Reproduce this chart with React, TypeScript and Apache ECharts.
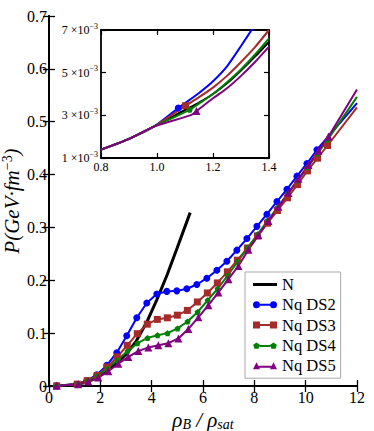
import React, { useEffect, useRef } from "react";
import * as echarts from "echarts";

// ---------- main panel data (x = rho_B / rho_sat, y = P in GeV fm^-3) ----------
const N_X = [0.3, 0.6, 1.0, 1.4, 1.8, 2.2, 2.6, 3.0, 3.4, 3.8, 4.2, 4.6, 5.0, 5.5];
const N_Y = [0.0002, 0.0008, 0.0025, 0.0065, 0.014, 0.026, 0.042, 0.06, 0.085, 0.12, 0.163, 0.21, 0.262, 0.328];

const DS2_X = [0.3, 1.08, 1.47, 1.86, 2.25, 2.64, 3.03, 3.42, 3.81, 4.2, 4.59, 4.98, 5.37, 5.76, 6.15, 6.54, 6.93, 7.32, 7.71, 8.1, 8.49, 8.88, 9.27, 9.66, 10.05, 10.44, 12];
const DS2_Y = [0.0003, 0.0033, 0.01, 0.021, 0.039, 0.063, 0.095, 0.129, 0.157, 0.174, 0.179, 0.18, 0.184, 0.192, 0.204, 0.219, 0.236, 0.257, 0.279, 0.302, 0.325, 0.349, 0.372, 0.397, 0.421, 0.447, 0.535];

const DS3_X = [0.3, 1.1, 1.49, 1.88, 2.27, 2.66, 3.05, 3.44, 3.83, 4.22, 4.61, 5.0, 5.39, 5.78, 6.17, 6.56, 6.95, 7.34, 7.73, 8.12, 8.51, 8.9, 9.29, 9.68, 10.07, 10.46, 10.85, 12];
const DS3_Y = [0.0003, 0.0035, 0.01, 0.02, 0.036, 0.055, 0.077, 0.099, 0.117, 0.126, 0.129, 0.134, 0.143, 0.159, 0.176, 0.195, 0.216, 0.238, 0.261, 0.284, 0.308, 0.332, 0.356, 0.381, 0.407, 0.431, 0.455, 0.527];

const DS4_X = [0.3, 1.12, 1.5, 1.89, 2.28, 2.67, 3.06, 3.45, 3.84, 4.23, 4.62, 5.01, 5.4, 5.79, 6.18, 6.57, 6.96, 7.35, 7.74, 8.13, 8.52, 8.91, 9.3, 9.69, 10.08, 10.47, 10.86, 12];
const DS4_Y = [0.0003, 0.0033, 0.0095, 0.019, 0.033, 0.049, 0.066, 0.081, 0.091, 0.096, 0.1, 0.109, 0.122, 0.14, 0.162, 0.184, 0.209, 0.235, 0.262, 0.287, 0.313, 0.338, 0.364, 0.389, 0.414, 0.44, 0.466, 0.547];

const DS5_X = [0.3, 1.14, 1.53, 1.92, 2.31, 2.7, 3.09, 3.48, 3.87, 4.26, 4.65, 5.04, 5.43, 5.82, 6.21, 6.6, 6.99, 7.38, 7.77, 8.16, 8.55, 8.94, 9.33, 9.72, 10.11, 10.5, 10.89, 12];
const DS5_Y = [0.0003, 0.0033, 0.0085, 0.016, 0.028, 0.042, 0.055, 0.066, 0.073, 0.077, 0.081, 0.09, 0.108, 0.13, 0.153, 0.177, 0.202, 0.227, 0.258, 0.285, 0.312, 0.339, 0.365, 0.392, 0.418, 0.445, 0.472, 0.561];

// ---------- inset data (y in units of 10^-3 GeV fm^-3) ----------
const IN_N_X = [0.8, 0.9, 0.99, 1.1, 1.15, 1.2, 1.25, 1.3, 1.35, 1.4];
const IN_N_Y = [1.39, 1.9, 2.48, 3.25, 3.6, 4.0, 4.5, 5.1, 5.75, 6.45];
const IN_DS2_X = [0.8, 0.9, 0.99, 1.076, 1.15, 1.2, 1.25, 1.3, 1.35, 1.4];
const IN_DS2_Y = [1.39, 1.9, 2.48, 3.34, 4.05, 4.6, 5.3, 6.25, 7.25, 8.3];
const IN_DS3_X = [0.8, 0.9, 0.99, 1.102, 1.15, 1.2, 1.25, 1.3, 1.35, 1.4];
const IN_DS3_Y = [1.39, 1.9, 2.48, 3.45, 3.85, 4.3, 4.85, 5.5, 6.2, 7.0];
const IN_DS4_X = [0.8, 0.9, 0.99, 1.117, 1.15, 1.2, 1.25, 1.3, 1.35, 1.4];
const IN_DS4_Y = [1.39, 1.9, 2.48, 3.26, 3.55, 4.0, 4.55, 5.15, 5.85, 6.61];
const IN_DS5_X = [0.8, 0.9, 0.99, 1.123, 1.141, 1.2, 1.25, 1.3, 1.35, 1.4];
const IN_DS5_Y = [1.39, 1.9, 2.48, 3.02, 3.2, 3.8, 4.27, 4.85, 5.5, 6.22];
const IN_MARK = { ds2: 3, ds3: 3, ds4: 3, ds5: 4 };

const INSET_X_TICKS = [0.8, 1.0, 1.2, 1.4];
const INSET_Y_TICKS = [1, 3, 5, 7];

const FONT = "'Liberation Serif', 'DejaVu Serif', serif";
const C_N = "#000000";
const C2 = "#0000ff";
const C3 = "#a52a2a";
const C4 = "#008000";
const C5 = "#800080";
const PENTAGON = "path://M0,-10 L9.51,-3.09 L5.88,8.09 L-5.88,8.09 L-9.51,-3.09 Z";

// legend icons: line with a marker at each end (24 x 7 box)
const ICON_N = "path://M0,0 L24,0 L24,3 L0,3 Z";
const ICON_DS2 =
  "path://M0,3.5 A3.5,3.5 0 1,1 7,3.5 A3.5,3.5 0 1,1 0,3.5 Z M17,3.5 A3.5,3.5 0 1,1 24,3.5 A3.5,3.5 0 1,1 17,3.5 Z M7,2.5 L17,2.5 L17,4.5 L7,4.5 Z";
const ICON_DS3 = "path://M0,0 L7,0 L7,7 L0,7 Z M17,0 L24,0 L24,7 L17,7 Z M7,2.5 L17,2.5 L17,4.5 L7,4.5 Z";
const ICON_DS4 =
  "path://M3.5,0.5 L6.83,2.92 L5.56,6.83 L1.44,6.83 L0.17,2.92 Z M20.5,0.5 L23.83,2.92 L22.56,6.83 L18.44,6.83 L17.17,2.92 Z M6.6,3 L17.4,3 L17.4,5 L6.6,5 Z M0,0 L0.01,0 L0,0.01 Z M24,7 L23.99,7 L24,6.99 Z";
const ICON_DS5 = "path://M3.5,0 L7,7 L0,7 Z M20.5,0 L24,7 L17,7 Z M5.3,3.6 L18.7,3.6 L18.7,5.6 L5.3,5.6 Z";

function mainData(xs: number[], ys: number[], lastPlain: boolean) {
  return xs.map((x, i) =>
    lastPlain && i === xs.length - 1 ? { value: [x, ys[i]], symbol: "none" } : [x, ys[i]]
  );
}
function insetData(xs: number[], ys: number[], mark: number) {
  return xs.map((x, i) => (i === mark ? [x, ys[i]] : { value: [x, ys[i]], symbol: "none" }));
}

const axisLine = { show: true, lineStyle: { color: "#000", width: 1.8 } };
const tickMain = { show: true, inside: true, length: 6, lineStyle: { color: "#000", width: 1.3 } };
const tickInset = { show: true, inside: true, length: 5, lineStyle: { color: "#000", width: 1.2 } };

export default function App() {
  const ref = useRef<HTMLDivElement>(null);
  useEffect(() => {
    const chart = echarts.init(ref.current!, null, { renderer: "svg" });
    const option: any = {
      animation: false,
      backgroundColor: "#fff",
      grid: [
        { left: 49, right: 17, top: 16, bottom: 45, containLabel: false, outerBoundsMode: "none" },
        {
          left: 101, top: 30, width: 168, height: 128, show: true, backgroundColor: "#fff", borderWidth: 0,
          containLabel: false, outerBoundsMode: "none",
        },
      ],
      legend: {
        data: [
          { name: "N", icon: ICON_N, itemStyle: { borderWidth: 0 } },
          { name: "Nq DS2", icon: ICON_DS2, itemStyle: { borderWidth: 0 } },
          { name: "Nq DS3", icon: ICON_DS3, itemStyle: { borderWidth: 0 } },
          { name: "Nq DS4", icon: ICON_DS4, itemStyle: { borderWidth: 0 } },
          { name: "Nq DS5", icon: ICON_DS5, itemStyle: { borderWidth: 0 } },
        ],
        orient: "vertical",
        left: 245,
        top: 272,
        padding: [4, 5, 4, 8],
        itemGap: 3.3,
        itemWidth: 24,
        itemHeight: 10,
        itemTextGap: 13,
        symbolKeepAspect: true,
        borderColor: "#aaa",
        borderWidth: 1,
        borderRadius: 0,
        backgroundColor: "#fff",
        textStyle: { fontFamily: FONT, fontSize: 16.5, color: "#000" },
      },
      xAxis: [
        {
          type: "value", gridIndex: 0, position: "bottom", min: 0, max: 12, interval: 2,
          axisLine, axisTick: tickMain, splitLine: { show: false },
          axisLabel: { fontFamily: FONT, fontSize: 16, color: "#000", margin: 3 },
          name: "{i|ρ}{s|B}{i| / ρ}{s|sat}",
          nameLocation: "middle",
          nameGap: 17,
          nameTextStyle: {
            rich: {
              i: { fontFamily: FONT, fontSize: 21, fontStyle: "italic", color: "#000" },
              s: { fontFamily: FONT, fontSize: 14, fontStyle: "italic", color: "#000", padding: [8, 0, 0, 0] },
            },
          },
        },
        {
          type: "value", gridIndex: 0, position: "top", min: 0, max: 12, interval: 2,
          axisLine, axisTick: tickMain, splitLine: { show: false }, axisLabel: { show: false },
        },
        {
          type: "value", gridIndex: 1, position: "bottom", min: 0.8, max: 1.4,
          axisLine, axisTick: { ...tickInset, customValues: INSET_X_TICKS }, splitLine: { show: false },
          axisLabel: {
            customValues: INSET_X_TICKS, fontFamily: FONT, fontSize: 12, color: "#000", margin: 3,
            formatter: (v: number) => v.toFixed(1),
          },
        },
        {
          type: "value", gridIndex: 1, position: "top", min: 0.8, max: 1.4,
          axisLine, axisTick: { ...tickInset, customValues: INSET_X_TICKS }, splitLine: { show: false },
          axisLabel: { show: false },
        },
      ],
      yAxis: [
        {
          type: "value", gridIndex: 0, position: "left", min: 0, max: 0.7, interval: 0.1,
          axisLine, axisTick: tickMain, splitLine: { show: false },
          axisLabel: {
            fontFamily: FONT, fontSize: 16, color: "#000", margin: 2,
            formatter: (v: number) => (v === 0 ? "0" : v.toFixed(1)),
          },
          name: "{i|P(GeV·fm}{p|−3}{i|)}",
          nameLocation: "middle",
          nameGap: 25,
          nameMoveOverlap: false,
          nameRotate: 90,
          nameTextStyle: {
            rich: {
              i: { fontFamily: FONT, fontSize: 21, fontStyle: "italic", color: "#000" },
              p: { fontFamily: FONT, fontSize: 14, color: "#000", padding: [0, 0, 10, 0] },
            },
          },
        },
        {
          type: "value", gridIndex: 0, position: "right", min: 0, max: 0.7, interval: 0.1,
          axisLine, axisTick: tickMain, splitLine: { show: false }, axisLabel: { show: false },
        },
        {
          type: "value", gridIndex: 1, position: "left", min: 1, max: 7,
          axisLine, axisTick: { ...tickInset, customValues: INSET_Y_TICKS }, splitLine: { show: false },
          axisLabel: {
            customValues: INSET_Y_TICKS, margin: 3,
            formatter: (v: number) => `{a|${v} ×10}{b|−3}`,
            rich: {
              a: { fontFamily: FONT, fontSize: 12, color: "#000" },
              b: { fontFamily: FONT, fontSize: 8, color: "#000", padding: [0, 0, 8, 0] },
            },
          },
        },
        {
          type: "value", gridIndex: 1, position: "right", min: 1, max: 7,
          axisLine, axisTick: { ...tickInset, customValues: INSET_Y_TICKS }, splitLine: { show: false },
          axisLabel: { show: false },
        },
      ],
      series: [
        {
          name: "N", type: "line", xAxisIndex: 0, yAxisIndex: 0, symbol: "none",
          color: C_N, lineStyle: { width: 3, color: C_N }, data: mainData(N_X, N_Y, false),
        },
        {
          name: "Nq DS2", type: "line", xAxisIndex: 0, yAxisIndex: 0, symbol: "circle", symbolSize: 7,
          color: C2, lineStyle: { width: 2, color: C2 }, data: mainData(DS2_X, DS2_Y, true),
        },
        {
          name: "Nq DS3", type: "line", xAxisIndex: 0, yAxisIndex: 0, symbol: "rect", symbolSize: 7,
          color: C3, lineStyle: { width: 2, color: C3 }, data: mainData(DS3_X, DS3_Y, true),
        },
        {
          name: "Nq DS4", type: "line", xAxisIndex: 0, yAxisIndex: 0, symbol: PENTAGON, symbolSize: 6,
          color: C4, lineStyle: { width: 2, color: C4 }, data: mainData(DS4_X, DS4_Y, true),
        },
        {
          name: "Nq DS5", type: "line", xAxisIndex: 0, yAxisIndex: 0, symbol: "triangle", symbolSize: 8,
          color: C5, lineStyle: { width: 2, color: C5 }, data: mainData(DS5_X, DS5_Y, true),
        },
        {
          name: "inset N", type: "line", xAxisIndex: 2, yAxisIndex: 2, symbol: "none", smooth: 0.3,
          color: C_N, lineStyle: { width: 2, color: C_N }, data: IN_N_X.map((x, i) => [x, IN_N_Y[i]]),
        },
        {
          name: "inset DS2", type: "line", xAxisIndex: 2, yAxisIndex: 2, symbol: "circle", symbolSize: 7, smooth: 0.2,
          color: C2, lineStyle: { width: 2, color: C2 }, data: insetData(IN_DS2_X, IN_DS2_Y, IN_MARK.ds2),
        },
        {
          name: "inset DS3", type: "line", xAxisIndex: 2, yAxisIndex: 2, symbol: "rect", symbolSize: 7, smooth: 0.2,
          color: C3, lineStyle: { width: 2, color: C3 }, data: insetData(IN_DS3_X, IN_DS3_Y, IN_MARK.ds3),
        },
        {
          name: "inset DS4", type: "line", xAxisIndex: 2, yAxisIndex: 2, symbol: PENTAGON, symbolSize: 6, smooth: 0.2,
          color: C4, lineStyle: { width: 2, color: C4 }, data: insetData(IN_DS4_X, IN_DS4_Y, IN_MARK.ds4),
        },
        {
          name: "inset DS5", type: "line", xAxisIndex: 2, yAxisIndex: 2, symbol: "triangle", symbolSize: 8, smooth: 0.2,
          color: C5, lineStyle: { width: 2, color: C5 }, data: insetData(IN_DS5_X, IN_DS5_Y, IN_MARK.ds5),
        },
      ],
    };
    chart.setOption(option);
    return () => chart.dispose();
  }, []);
  return <div ref={ref} style={{ position: "absolute", left: 0, top: 0, width: 374, height: 431 }} />;
}
